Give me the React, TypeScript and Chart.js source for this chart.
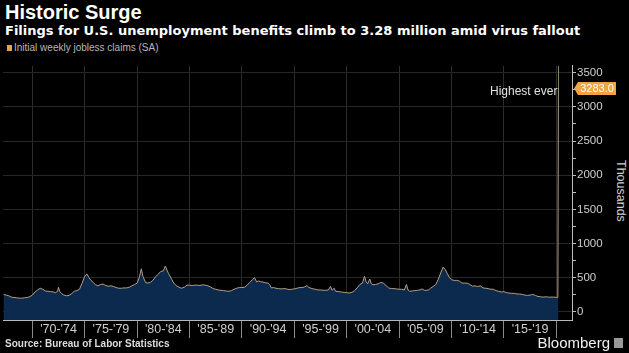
import React, { useEffect, useRef } from "react";
import { Chart, registerables } from "chart.js";

Chart.register(...registerables);

const DATES: number[] = [
  1967.25, 1967.5, 1967.75, 1968.0, 1968.25, 1968.5, 1968.75, 1969.0, 1969.25, 1969.5, 1969.75,
  1970.0, 1970.25, 1970.5, 1970.75, 1971.0, 1971.25, 1971.5, 1971.75, 1972.0, 1972.2, 1972.4,
  1972.5, 1972.6, 1972.8, 1973.0, 1973.25, 1973.5, 1973.75, 1974.0, 1974.25, 1974.5, 1974.75,
  1975.0, 1975.2, 1975.4, 1975.6, 1975.8, 1976.0, 1976.25, 1976.5, 1976.75, 1977.0, 1977.25,
  1977.5, 1977.75, 1978.0, 1978.25, 1978.5, 1978.75, 1979.0, 1979.25, 1979.5, 1979.75, 1980.0,
  1980.2, 1980.4, 1980.55, 1980.8, 1981.0, 1981.25, 1981.5, 1981.75, 1982.0, 1982.25, 1982.5,
  1982.7, 1982.85, 1983.0, 1983.25, 1983.5, 1983.75, 1984.0, 1984.25, 1984.5, 1984.75, 1985.0,
  1985.25, 1985.5, 1985.75, 1986.0, 1986.25, 1986.5, 1986.75, 1987.0, 1987.25, 1987.5, 1987.75,
  1988.0, 1988.25, 1988.5, 1988.75, 1989.0, 1989.25, 1989.5, 1989.75, 1990.0, 1990.25, 1990.5,
  1990.75, 1991.0, 1991.2, 1991.4, 1991.6, 1991.8, 1992.0, 1992.25, 1992.5, 1992.65, 1992.8,
  1993.0, 1993.25, 1993.5, 1993.75, 1994.0, 1994.25, 1994.5, 1994.75, 1995.0, 1995.25, 1995.5,
  1995.75, 1996.0, 1996.2, 1996.4, 1996.6, 1996.8, 1997.0, 1997.25, 1997.5, 1997.75, 1998.0,
  1998.25, 1998.45, 1998.6, 1998.8, 1998.95, 1999.25, 1999.5, 1999.75, 2000.0, 2000.25, 2000.5,
  2000.75, 2001.0, 2001.25, 2001.5, 2001.7, 2001.85, 2002.0, 2002.2, 2002.35, 2002.5, 2002.75,
  2003.0, 2003.25, 2003.5, 2003.75, 2004.0, 2004.25, 2004.5, 2004.75, 2005.0, 2005.25, 2005.5,
  2005.7, 2005.85, 2006.0, 2006.25, 2006.5, 2006.75, 2007.0, 2007.2, 2007.4, 2007.6, 2007.8,
  2008.0, 2008.25, 2008.5, 2008.75, 2009.0, 2009.2, 2009.4, 2009.6, 2009.8, 2010.0, 2010.25,
  2010.5, 2010.75, 2011.0, 2011.25, 2011.5, 2011.75, 2012.0, 2012.25, 2012.5, 2012.75, 2013.0,
  2013.25, 2013.5, 2013.75, 2014.0, 2014.25, 2014.5, 2014.75, 2015.0, 2015.25, 2015.5, 2015.75,
  2016.0, 2016.25, 2016.5, 2016.75, 2017.0, 2017.25, 2017.5, 2017.75, 2018.0, 2018.25, 2018.5,
  2018.75, 2019.0, 2019.25, 2019.5, 2019.75, 2020.0, 2020.15, 2020.2,
];

const CLAIMS: number[] = [
  255, 245, 235, 215, 210, 205, 200, 200, 205, 210, 220,
  245, 290, 320, 345, 330, 305, 300, 295, 290, 280, 300,
  360, 300, 265, 245, 235, 240, 265, 300, 310, 330, 420,
  520, 555, 500, 460, 430, 400, 380, 400, 405, 385, 375,
  380, 370, 355, 345, 345, 350, 350, 360, 380, 400, 420,
  500, 630, 520, 430, 420, 430, 460, 510, 550, 590, 600,
  670, 610, 560, 490, 420, 380, 360, 345, 360, 390, 390,
  385, 390, 390, 385, 395, 390, 380, 365, 340, 330, 320,
  315, 310, 305, 300, 310, 330, 345, 355, 355, 360, 390,
  430, 470, 500, 440, 450, 440, 435, 425, 420, 400, 350,
  355, 345, 340, 335, 340, 335, 325, 330, 335, 345, 355,
  355, 365, 385, 355, 345, 335, 330, 320, 320, 315, 315,
  320, 370, 315, 345, 300, 295, 290, 285, 280, 275, 285,
  310, 350, 400, 420, 520, 440, 410, 480, 410, 395, 400,
  410, 430, 420, 385, 350, 340, 340, 335, 330, 330, 320,
  400, 320, 300, 305, 310, 315, 320, 335, 315, 315, 320,
  345, 370, 400, 480, 580, 655, 620, 560, 500, 470, 460,
  460, 450, 420, 420, 420, 400, 375, 380, 370, 380, 350,
  345, 340, 330, 330, 310, 300, 290, 295, 280, 275, 270,
  270, 260, 260, 255, 245, 240, 245, 255, 240, 225, 220,
  215, 220, 215, 215, 215, 212, 211, 3283,
];

const X_BOUNDARIES: number[] = [1970, 1975, 1980, 1985, 1990, 1995, 2000, 2005, 2010, 2015, 2020];
const X_LABELS: string[] = ["'70-'74", "'75-'79", "'80-'84", "'85-'89", "'90-'94", "'95-'99", "'00-'04", "'05-'09", "'10-'14", "'15-'19"];
const Y_TICKS: number[] = [0, 250, 500, 750, 1000, 1250, 1500, 1750, 2000, 2250, 2500, 2750, 3000, 3250, 3500];

const FONT = "'Liberation Sans', Arial, sans-serif";
const WIDE = "'DejaVu Sans', sans-serif";

export default function App() {
  const ref = useRef<HTMLCanvasElement | null>(null);

  useEffect(() => {
    document.body.style.margin = "0";
    document.body.style.background = "#000";
    const canvas = ref.current;
    if (!canvas) return;

    const midTicks = X_LABELS.map((_, i) => X_BOUNDARIES[i] + 2.5);
    const xTickValues = [...X_BOUNDARIES, ...midTicks].sort((a, b) => a - b);
    const isBoundary = (v: number) => X_BOUNDARIES.includes(v);

    const annotate = {
      id: "annotate",
      afterDatasetsDraw(chart: any) {
        const { ctx, chartArea, scales } = chart;
        const lastX = DATES[DATES.length - 1];
        const lastY = CLAIMS[CLAIMS.length - 1];
        const px = scales.x.getPixelForValue(lastX);
        const py = scales.y.getPixelForValue(lastY);
        ctx.save();
        ctx.strokeStyle = "rgba(190,165,130,0.75)";
        ctx.lineWidth = 1;
        ctx.beginPath();
        ctx.moveTo(Math.round(px) + 0.5, chartArea.top);
        ctx.lineTo(Math.round(px) + 0.5, py);
        ctx.stroke();

        ctx.font = `12px ${FONT}`;
        ctx.fillStyle = "#e2e2e2";
        ctx.textAlign = "right";
        ctx.textBaseline = "middle";
        ctx.fillText("Highest ever", px - 1, py + 4);

        const bx = chartArea.right + 2;
        const by = py + 1;
        const h = 13;
        const w = 42;
        ctx.fillStyle = "#f2a444";
        ctx.beginPath();
        ctx.moveTo(bx, by);
        ctx.lineTo(bx + 4, by - h / 2);
        ctx.lineTo(bx + w, by - h / 2);
        ctx.lineTo(bx + w, by + h / 2);
        ctx.lineTo(bx + 4, by + h / 2);
        ctx.closePath();
        ctx.fill();
        ctx.fillStyle = "#fff";
        ctx.textAlign = "center";
        ctx.font = `11px ${FONT}`;
        ctx.fillText(lastY.toFixed(1), bx + 4 + (w - 4) / 2, by + 0.5);
        ctx.restore();
      },
    };

    const chart = new Chart(canvas, {
      type: "line",
      data: {
        datasets: [
          {
            data: DATES.map((d, i) => ({ x: d, y: CLAIMS[i] })),
            borderColor: "#b49e84",
            borderWidth: 1,
            backgroundColor: "#0c2a4e",
            fill: "start",
            pointRadius: 0,
            tension: 0,
          },
        ],
      },
      options: {
        animation: false,
        responsive: false,
        maintainAspectRatio: false,
        layout: { padding: { left: 3, top: 2, right: 0, bottom: 0 } },
        plugins: { legend: { display: false }, tooltip: { enabled: false } },
        scales: {
          x: {
            type: "linear",
            min: 1967.2,
            max: 2021.5,
            afterBuildTicks: (s: any) => {
              s.ticks = xTickValues.map((v) => ({ value: v }));
            },
            afterFit: (s: any) => {
              s.height = 20;
            },
            ticks: {
              autoSkip: false,
              maxRotation: 0,
              minRotation: 0,
              padding: -16,
              color: "#cfcfcf",
              font: { family: FONT, size: 12.5 },
              callback: (v: any) => {
                const idx = midTicks.indexOf(Number(v));
                return idx >= 0 ? X_LABELS[idx] : "";
              },
            },
            grid: {
              drawOnChartArea: true,
              tickLength: 18,
              color: (c: any) => (c.tick && isBoundary(c.tick.value) ? "#2c2c2c" : "rgba(0,0,0,0)"),
              tickColor: (c: any) => (c.tick && isBoundary(c.tick.value) ? "#8a8a8a" : "rgba(0,0,0,0)"),
            },
            border: { color: "#b8b8b8", width: 1 },
          },
          y: {
            type: "linear",
            position: "right",
            min: -120,
            max: 3600,
            afterBuildTicks: (s: any) => {
              s.ticks = Y_TICKS.map((v) => ({ value: v }));
            },
            afterFit: (s: any) => {
              s.width = 57;
            },
            ticks: {
              autoSkip: false,
              padding: 1,
              color: "#cfcfcf",
              font: { family: FONT, size: 11.5 },
              callback: (v: any) => (Number(v) % 500 === 0 ? String(v) : ""),
            },
            grid: {
              tickLength: 4,
              color: (c: any) => (c.tick && c.tick.value % 500 === 0 ? "#262626" : "rgba(0,0,0,0)"),
              tickColor: "#bdbdbd",
            },
            border: { color: "#bdbdbd", width: 1 },
          },
        },
      },
      plugins: [annotate],
    });

    return () => chart.destroy();
  }, []);

  const abs: React.CSSProperties = { position: "absolute", fontFamily: FONT, whiteSpace: "nowrap" };

  return (
    <div style={{ position: "fixed", left: 0, top: 0, width: 629, height: 353, background: "#000", overflow: "hidden" }}>
      <div style={{ ...abs, left: 5, top: 1, fontSize: 20, fontWeight: 700, lineHeight: "22px", color: "#fff" }}>Historic Surge</div>
      <div style={{ ...abs, fontFamily: WIDE, left: 5, top: 23, fontSize: 13, fontWeight: 700, lineHeight: "16px", color: "#fff" }}>
        Filings for U.S. unemployment benefits climb to 3.28 million amid virus fallout
      </div>
      <div style={{ position: "absolute", left: 7, top: 45, width: 5, height: 6, background: "#f4a040" }} />
      <div style={{ ...abs, left: 14, top: 42, fontSize: 10, lineHeight: "12px", color: "#b8b8b8" }}>Initial weekly jobless claims (SA)</div>
      <div
        style={{
          ...abs,
          left: 614,
          top: 160,
          fontSize: 12.5,
          lineHeight: "14px",
          color: "#cfcfcf",
          writingMode: "vertical-rl",
        }}
      >
        Thousands
      </div>
      <canvas ref={ref} width={629} height={282} style={{ position: "absolute", left: 0, top: 58, width: 629, height: 282 }} />
      <div style={{ ...abs, left: 5, top: 338, fontSize: 10, fontWeight: 700, lineHeight: "12px", color: "#dcdcdc" }}>
        Source: Bureau of Labor Statistics
      </div>
      <div style={{ ...abs, right: 19, top: 334, fontSize: 15, lineHeight: "17px", color: "#f0f0f0" }}>Bloomberg</div>
      <div style={{ position: "absolute", left: 614, top: 338, width: 9, height: 10, background: "#9a9a9a" }} />
    </div>
  );
}
